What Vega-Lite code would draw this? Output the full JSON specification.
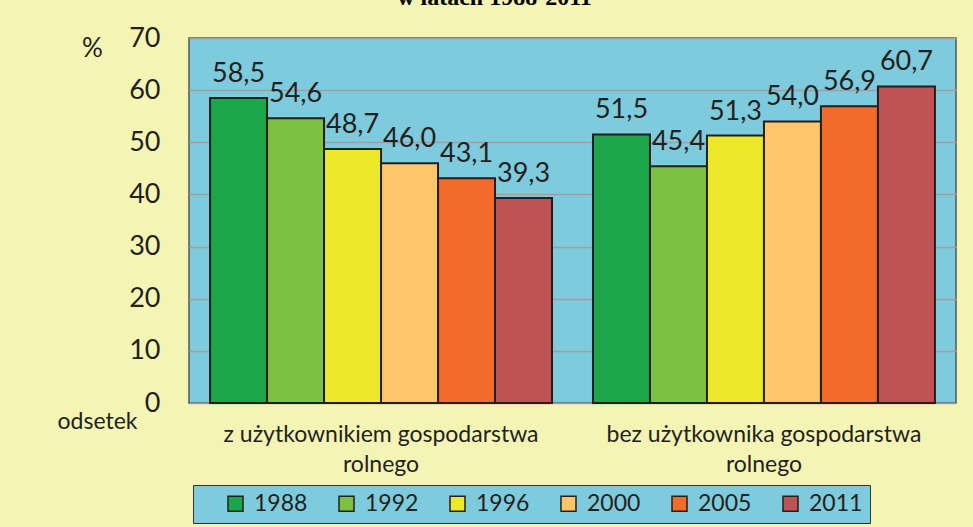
{
  "$schema": "https://vega.github.io/schema/vega-lite/v6.json",
  "width": 767,
  "height": 365,
  "autosize": {"type": "none"},
  "padding": {"left": 189, "top": 38, "right": 17, "bottom": 124},
  "background": "#F4F4B4",
  "title": {"text": "w latach 1988-2011", "font": "Liberation Serif", "fontWeight": "bold", "fontSize": 24, "color": "#000000", "anchor": "middle", "dx": -78, "dy": 4.5, "offset": 0, "baseline": "alphabetic"},
  "data": {"values": [
    {"grupa": "z użytkownikiem gospodarstwa rolnego", "rok": "1988", "odsetek": 58.5},
    {"grupa": "z użytkownikiem gospodarstwa rolnego", "rok": "1992", "odsetek": 54.6},
    {"grupa": "z użytkownikiem gospodarstwa rolnego", "rok": "1996", "odsetek": 48.7},
    {"grupa": "z użytkownikiem gospodarstwa rolnego", "rok": "2000", "odsetek": 46.0},
    {"grupa": "z użytkownikiem gospodarstwa rolnego", "rok": "2005", "odsetek": 43.1},
    {"grupa": "z użytkownikiem gospodarstwa rolnego", "rok": "2011", "odsetek": 39.3},
    {"grupa": "bez użytkownika gospodarstwa rolnego", "rok": "1988", "odsetek": 51.5},
    {"grupa": "bez użytkownika gospodarstwa rolnego", "rok": "1992", "odsetek": 45.4},
    {"grupa": "bez użytkownika gospodarstwa rolnego", "rok": "1996", "odsetek": 51.3},
    {"grupa": "bez użytkownika gospodarstwa rolnego", "rok": "2000", "odsetek": 54.0},
    {"grupa": "bez użytkownika gospodarstwa rolnego", "rok": "2005", "odsetek": 56.9},
    {"grupa": "bez użytkownika gospodarstwa rolnego", "rok": "2011", "odsetek": 60.7}
  ]},
  "encoding": {
    "x": {
      "field": "grupa", "type": "nominal", "sort": null,
      "scale": {"paddingInner": 0.107, "paddingOuter": 0.055},
      "axis": {
        "title": "odsetek", "titleX": -92, "titleY": 18, "titleAngle": 0, "titleAlign": "center", "titleBaseline": "middle",
        "titleFont": "Lato", "titleFontSize": 23, "titleFontWeight": "normal", "titleColor": "#231F20",
        "labelExpr": "split(replace(datum.label, ' rolnego', '|rolnego'), '|')",
        "labelAngle": 0, "labelFont": "Lato", "labelFontSize": 23, "labelLineHeight": 30, "labelPadding": 20,
        "labelColor": "#231F20", "labelLimit": 0, "domain": false, "ticks": false, "grid": false
      }
    },
    "xOffset": {"field": "rok", "type": "nominal", "sort": null, "scale": {"paddingInner": 0, "paddingOuter": 0}},
    "y": {
      "field": "odsetek", "type": "quantitative",
      "scale": {"domain": [0, 70], "nice": false},
      "axis": {
        "title": "%", "titleAngle": 0, "titleX": -97, "titleY": 10, "titleAlign": "center", "titleBaseline": "middle",
        "titleFont": "Lato", "titleFontSize": 26, "titleFontWeight": "normal", "titleColor": "#231F20",
        "labelFont": "Lato", "labelFontSize": 27, "labelColor": "#231F20", "labelPadding": 29,
        "labelFlush": false, "labelOverlap": false,
        "values": [0, 10, 20, 30, 40, 50, 60, 70],
        "domain": false, "ticks": false, "grid": true, "gridColor": "#A59CA0", "gridWidth": 1.5
      }
    }
  },
  "layer": [
    {
      "mark": {"type": "bar", "stroke": "#231F20", "strokeWidth": 2},
      "encoding": {
        "color": {
          "field": "rok", "type": "nominal", "sort": null,
          "scale": {"domain": ["1988", "1992", "1996", "2000", "2005", "2011"], "range": ["#1BA64A", "#7DC143", "#EEE82A", "#FEC56B", "#F26B2A", "#BE5354"]},
          "legend": {
            "orient": "none", "legendX": 4, "legendY": 447, "direction": "horizontal", "columns": 6,
            "title": " ", "titleOrient": "left", "titlePadding": 24, "titleFontSize": 10,
            "symbolType": "square", "symbolSize": 225, "symbolStrokeColor": "#231F20", "symbolStrokeWidth": 1.5, "symbolOpacity": 1,
            "labelFont": "Lato", "labelFontSize": 23, "labelColor": "#231F20", "labelOffset": 7,
            "columnPadding": 27, "padding": 7, "fillColor": "#7ECBDD", "strokeColor": "#333333"
          }
        }
      }
    },
    {
      "mark": {"type": "text", "dy": -16, "baseline": "alphabetic", "font": "Lato", "fontSize": 27, "color": "#231F20"},
      "encoding": {"text": {"field": "odsetek", "type": "quantitative", "format": ".1f"}}
    }
  ],
  "config": {
    "locale": {"number": {"decimal": ",", "thousands": " ", "grouping": [3], "currency": ["", " zł"]}},
    "view": {"fill": "#7ECBDD", "stroke": "#555555", "strokeWidth": 1.5}
  }
}
